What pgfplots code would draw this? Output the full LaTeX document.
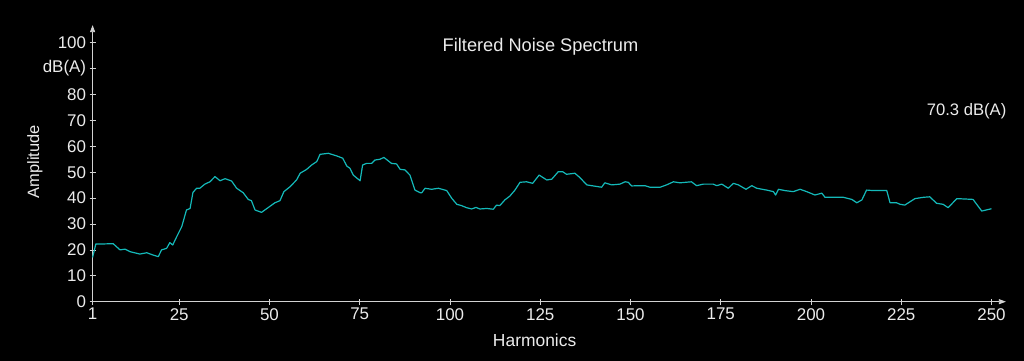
\documentclass[border=0pt]{standalone}
\usepackage{fontspec}
\setmainfont{Liberation Sans}
\usepackage{pgfplots}
\pgfplotsset{compat=1.18}
\usetikzlibrary{arrows.meta}
\definecolor{linecol}{RGB}{20,185,185}
\definecolor{axiscol}{RGB}{210,210,210}
\definecolor{textcol}{RGB}{235,235,235}
\begin{document}
\begin{tikzpicture}
\path[use as bounding box, fill=black] (0,0) rectangle (1024bp,361bp);
\begin{axis}[
  at={(92.6bp,59.3bp)}, anchor=south west,
  scale only axis, width=913.3bp, height=276.6bp,
  xmin=1, xmax=254, ymin=0, ymax=106.8,
  axis x line=bottom, axis y line=left,
  axis line style={axiscol, line width=0.8bp, -{Triangle[length=7bp,width=5bp]}},
  xtick={1,25,50,75,100,125,150,175,200,225,250},
  xticklabels={1,25,50,75,100,125,150,175,200,225,250},
  ytick={0,10,20,30,40,50,60,70,80,90,100},
  yticklabels={0,10,20,30,40,50,60,70,80,dB(A),100},
  /pgf/number format/assume math mode=true,
  tick align=center, major tick length=6bp,
  tick style={axiscol, line width=0.8bp},
  ticklabel style={text=textcol, font=\fontsize{17}{18}\selectfont},
  xlabel={Harmonics}, ylabel={Amplitude},
  xlabel style={at={(rel axis cs:0.484,-0.139)}, anchor=center, text=textcol, font=\fontsize{17.5}{19}\selectfont},
  ylabel style={at={(rel axis cs:-0.0631,0.506)}, anchor=center, rotate=0, text=textcol, font=\fontsize{16.5}{18}\selectfont},
  clip=false,
]
\addplot[linecol, line width=1.2bp, line join=round] coordinates {
(1,17.1) (1.9,22.3) (4,22.3) (6.7,22.4) (8.6,20.0) (10,20.3) (11.4,19.3) (14.1,18.4) (16,18.9) (17.8,18.0) (19.2,17.4)
(20.1,20.0) (21.5,20.6) (22.4,22.8) (23.2,21.9) (24.3,25.1) (25.7,29.0) (27,35.4) (28,36.0) (28.8,42.2) (29.8,43.8)
(30.7,43.8) (32.1,45.4) (33.5,46.3) (34.9,48.3) (36.3,46.7) (37.7,47.5) (39.5,46.6) (40.9,43.8) (42.7,42.1) (44.1,39.5)
(45,39.0) (46,35.4) (47.8,34.5) (49.7,36.4) (51.5,38.2) (52.9,39.0) (54,42.5) (55.7,44.4) (57.5,47.0) (58.5,49.6)
(60.3,51.1) (61.7,52.8) (63.1,54.1) (64,56.9) (66.3,57.3) (68.6,56.3) (70.3,55.4) (71.4,52.4) (72.3,51.5) (73.2,48.9)
(75.1,46.7) (75.8,52.8) (76.9,53.4) (78.3,53.4) (79.2,54.7) (80.6,55.0) (81.7,55.7) (83.8,53.4) (85.2,53.2) (86.2,51.1)
(87.5,50.9) (88.9,48.9) (90.3,43.1) (91.7,42.1) (92.2,42.1) (93.1,43.8) (94.9,43.4) (96.8,43.8) (99.1,42.9) (100.5,39.9)
(101.9,37.6) (103.2,37.1) (104.6,36.3) (106,35.8) (107.2,36.4) (108.3,35.8) (110.2,36.0) (112,35.7) (112.9,37.3) (113.8,37.1)
(115.2,39.3) (116.6,40.8) (118,43.1) (119.4,46.1) (121.2,46.3) (122.9,45.7) (124.7,48.9) (126.8,47.0) (128.2,47.3) (130,50.2)
(131.2,50.2) (132.3,49.2) (134.6,49.6) (136,47.9) (137.9,45.1) (139.7,44.7) (142,44.2) (142.9,45.9) (144.8,45.1) (147.1,45.4)
(148.5,46.3) (149.4,46.1) (150.3,44.7) (152.6,44.8) (154,44.8) (155.4,44.2) (158.2,44.2) (160,45.1) (161.9,46.3) (163.7,45.9)
(166.9,46.3) (168.3,44.8) (170.2,45.4) (172.9,45.4) (173.9,44.8) (175.3,45.4) (177.1,43.8) (178.5,45.7) (179.9,45.1) (182,43.4)
(183.6,44.8) (185,43.8) (187.7,43.1) (189.6,42.5) (190.2,41.2) (191,43.4) (192.8,42.9) (195.1,42.5) (197,43.4) (198.8,42.5)
(201.1,41.2) (203,41.9) (203.9,40.3) (209,40.3) (211.3,39.5) (212.7,38.2) (214.1,39.3) (215.4,43.1) (217.3,42.9) (221,42.9)
(221.9,38.2) (223.7,38.2) (224.7,37.6) (226,37.3) (227,38.2) (228.8,39.8) (231.1,40.3) (232.9,40.5) (234.8,38.0) (236.6,37.6)
(238,36.3) (240.4,39.8) (244.9,39.5) (247.3,35.0) (250,35.9)
};
\node[text=textcol, font=\fontsize{18.3}{20}\selectfont, anchor=center] at (rel axis cs:0.4904,0.9225) {Filtered Noise Spectrum};
\node[text=textcol, font=\fontsize{16.7}{18}\selectfont, anchor=center] at (rel axis cs:0.957,0.687) {70.3 dB(A)};
\end{axis}
\end{tikzpicture}
\end{document}
